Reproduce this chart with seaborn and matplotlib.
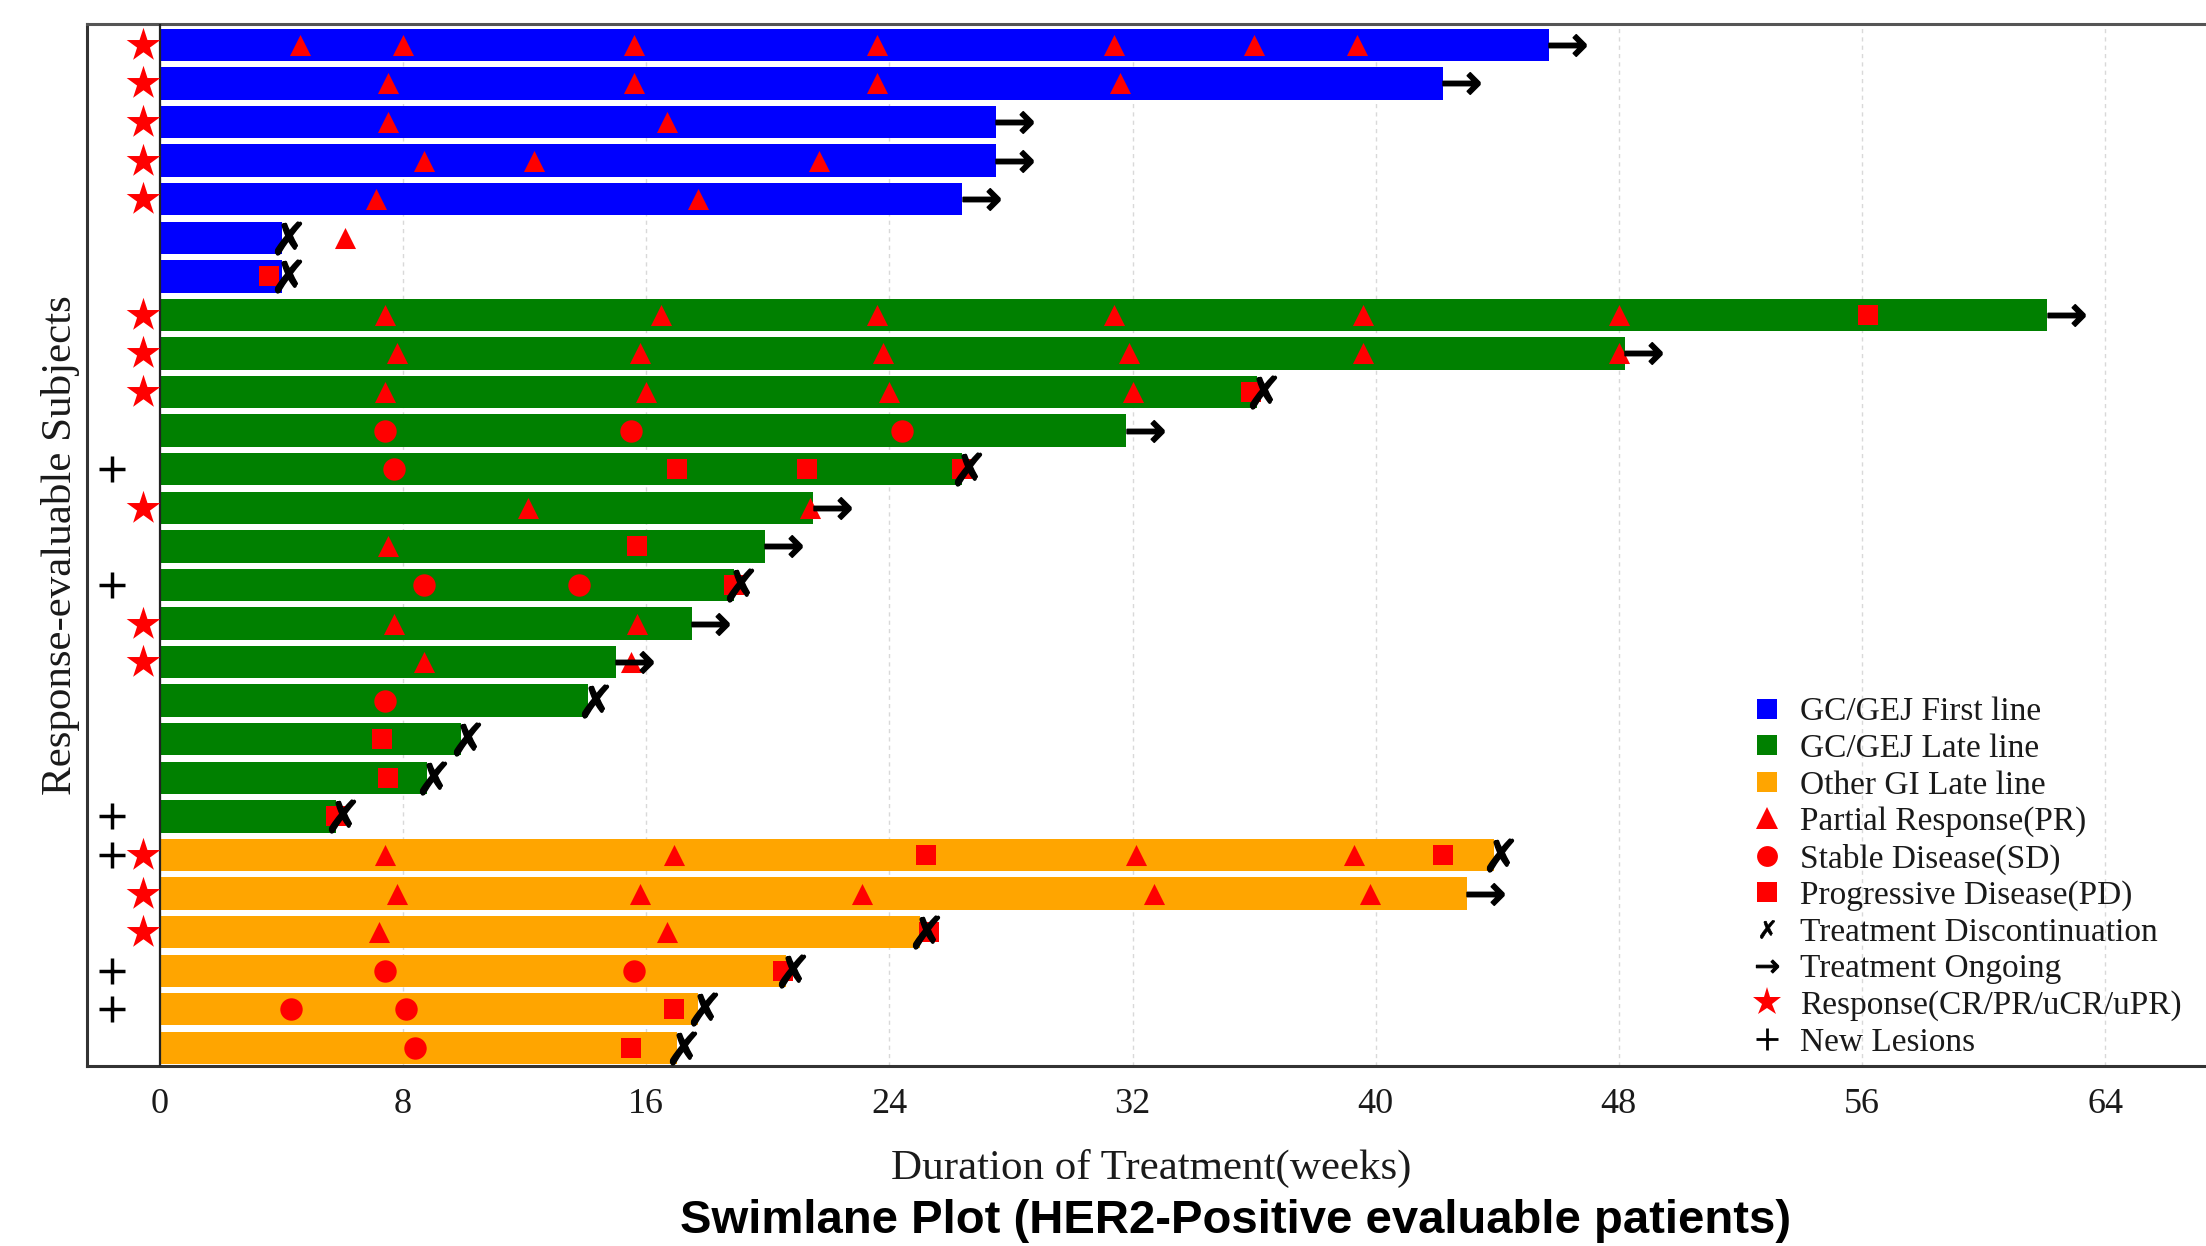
import matplotlib
matplotlib.use("Agg")
import matplotlib.pyplot as plt
from matplotlib.lines import Line2D
import pandas as pd
import seaborn as sns

# ---- data (weeks) ----
groups = (["GC/GEJ First line"] * 7
          + ["GC/GEJ Late line"] * 14
          + ["Other GI Late line"] * 6)

durations = [45.7, 42.2, 27.5, 27.5, 26.4, 4.0, 4.0,
             62.1, 48.2, 36.1, 31.8, 26.4, 21.5, 19.9, 18.9, 17.5, 15.0, 14.1, 9.9, 8.8, 5.8,
             43.9, 43.0, 25.0, 20.6, 17.7, 17.0]

# True = treatment ongoing (arrow), False = discontinued (cross)
ongoing = [True, True, True, True, True, False, False,
           True, True, False, True, False, True, True, False, True, True, False, False, False, False,
           False, True, False, False, False, False]

response_rows = [0, 1, 2, 3, 4, 7, 8, 9, 12, 15, 16, 21, 22, 23]
new_lesion_rows = [11, 14, 20, 21, 24, 25]

pr_events = {
    0: [4.6, 8.0, 15.6, 23.6, 31.4, 36.0, 39.4],
    1: [7.5, 15.6, 23.6, 31.6],
    2: [7.5, 16.7],
    3: [8.7, 12.3, 21.7],
    4: [7.1, 17.7],
    5: [6.1],
    7: [7.4, 16.5, 23.6, 31.4, 39.6, 48.0],
    8: [7.8, 15.8, 23.8, 31.9, 39.6, 48.0],
    9: [7.4, 16.0, 24.0, 32.0],
    12: [12.1, 21.4],
    13: [7.5],
    15: [7.7, 15.7],
    16: [8.7, 15.5],
    21: [7.4, 16.9, 32.1, 39.3],
    22: [7.8, 15.8, 23.1, 32.7, 39.8],
    23: [7.2, 16.7],
}

sd_events = {
    10: [7.4, 15.5, 24.4],
    11: [7.7],
    14: [8.7, 13.8],
    17: [7.4],
    24: [7.4, 15.6],
    25: [4.3, 8.1],
    26: [8.4],
}

pd_events = {
    6: [3.6],
    7: [56.2],
    9: [35.9],
    11: [17.0, 21.3, 26.4],
    13: [15.7],
    14: [18.9],
    18: [7.3],
    19: [7.5],
    20: [5.8],
    21: [25.2, 42.2],
    23: [25.3],
    24: [20.5],
    25: [16.9],
    26: [15.5],
}

group_colors = {"GC/GEJ First line": "#0000ff",
                "GC/GEJ Late line": "#008000",
                "Other GI Late line": "#ffa500"}

x_ticks = [0, 8, 16, 24, 32, 40, 48, 56, 64]


def flatten(events):
    xs, ys = [], []
    for row, weeks in events.items():
        for w in weeks:
            xs.append(w)
            ys.append(row)
    return xs, ys


# ---- style ----
sns.set_theme(style="white")
plt.rcParams["font.family"] = ["Liberation Serif", "DejaVu Sans"]
plt.rcParams["mathtext.fontset"] = "dejavusans"
text_col = "#1a1a1a"

W, H = 2206, 1246
fig = plt.figure(figsize=(W / 100, H / 100), dpi=100)
ax = fig.add_axes([87 / W, 1 - 1066 / H, (2216 - 87) / W, (1066 - 24) / H])

df = pd.DataFrame({"row": range(len(durations)), "weeks": durations, "group": groups})
sns.barplot(data=df, x="weeks", y="row", hue="group", palette=group_colors,
            orient="h", native_scale=True, dodge=False, width=0.84,
            saturation=1, linewidth=0, legend=False, ax=ax, zorder=2)

# response markers on the bars
for events, marker, size in [(pr_events, "^", 230), (sd_events, "o", 260), (pd_events, "s", 200)]:
    xs, ys = flatten(events)
    sns.scatterplot(x=xs, y=ys, marker=marker, s=size, color="red",
                    linewidth=0, ax=ax, zorder=4)

# end of treatment markers
end_x = [d + 0.6 for d, g in zip(durations, ongoing) if g]
end_y = [i for i, g in enumerate(ongoing) if g]
sns.scatterplot(x=end_x, y=end_y, marker="$\\rightarrow$", s=700, color="black",
                edgecolor="black", linewidth=1.2, ax=ax, zorder=5)
stop_x = [d + 0.2 for d, g in zip(durations, ongoing) if not g]
stop_y = [i for i, g in enumerate(ongoing) if not g]
sns.scatterplot(x=stop_x, y=stop_y, marker="$✗$", s=560, color="black",
                edgecolor="black", linewidth=1.0, ax=ax, zorder=5)

# responders and new lesions, left of zero
sns.scatterplot(x=[-0.55] * len(response_rows), y=response_rows, marker="*", s=650,
                color="red", linewidth=0, ax=ax, zorder=5, clip_on=False)
sns.scatterplot(x=[-1.57] * len(new_lesion_rows), y=new_lesion_rows, marker="+", s=340,
                color="black", linewidth=2.5, ax=ax, zorder=5)

ax.axvline(0, color="#222222", lw=1.6, zorder=3)

ax.set_xlim(-2.40, 67.65)
ax.set_ylim(26.47, -0.54)
ax.set_xticks(x_ticks)
ax.set_yticks([])
ax.tick_params(axis="x", length=0, labelsize=26, pad=16, labelcolor=text_col)
ax.grid(axis="x", linestyle=(0, (3, 3)), color="#d9d9d9", lw=1.0)
ax.grid(axis="y", visible=False)
ax.set_axisbelow(True)

for side in ["left", "top", "bottom"]:
    ax.spines[side].set_color("#333333")
    ax.spines[side].set_linewidth(2.2)
ax.spines["top"].set_color("#555555")
ax.spines["right"].set_visible(False)

ax.set_xlabel("Duration of Treatment(weeks)", fontsize=31, labelpad=20, color=text_col)
ax.set_ylabel("Response-evaluable Subjects", fontsize=31, labelpad=5, color=text_col)

# legend
handles = [
    Line2D([], [], ls="none", marker="s", ms=15, mfc=group_colors["GC/GEJ First line"], mew=0),
    Line2D([], [], ls="none", marker="s", ms=15, mfc=group_colors["GC/GEJ Late line"], mew=0),
    Line2D([], [], ls="none", marker="s", ms=15, mfc=group_colors["Other GI Late line"], mew=0),
    Line2D([], [], ls="none", marker="^", ms=16, mfc="red", mew=0),
    Line2D([], [], ls="none", marker="o", ms=15, mfc="red", mew=0),
    Line2D([], [], ls="none", marker="s", ms=15, mfc="red", mew=0),
    Line2D([], [], ls="none", marker="$✗$", ms=13, color="black", mew=0.5),
    Line2D([], [], ls="none", marker="$\\rightarrow$", ms=16, color="black", mew=0.8),
    Line2D([], [], ls="none", marker="*", ms=21, mfc="red", mew=0),
    Line2D([], [], ls="none", marker="+", ms=16, color="black", mew=2),
]
labels = ["GC/GEJ First line", "GC/GEJ Late line", "Other GI Late line",
          "Partial Response(PR)", "Stable Disease(SD)", "Progressive Disease(PD)",
          "Treatment Discontinuation", "Treatment Ongoing",
          "Response(CR/PR/uCR/uPR)", "New Lesions"]
leg = fig.legend(handles, labels, loc="upper left", bbox_to_anchor=(1750 / W, 1 - 697 / H),
                 frameon=False, fontsize=24, borderpad=0, borderaxespad=0,
                 handlelength=1.0, handletextpad=0.5, labelspacing=0.18)
for t in leg.get_texts():
    t.set_color(text_col)

fig.text(1236 / W, 1 - 1233 / H, "Swimlane Plot (HER2-Positive evaluable patients)",
         ha="center", va="baseline", fontsize=34, fontweight="bold",
         family=["Liberation Sans", "DejaVu Sans"], color="black")

fig.savefig("out.png", dpi=100)
